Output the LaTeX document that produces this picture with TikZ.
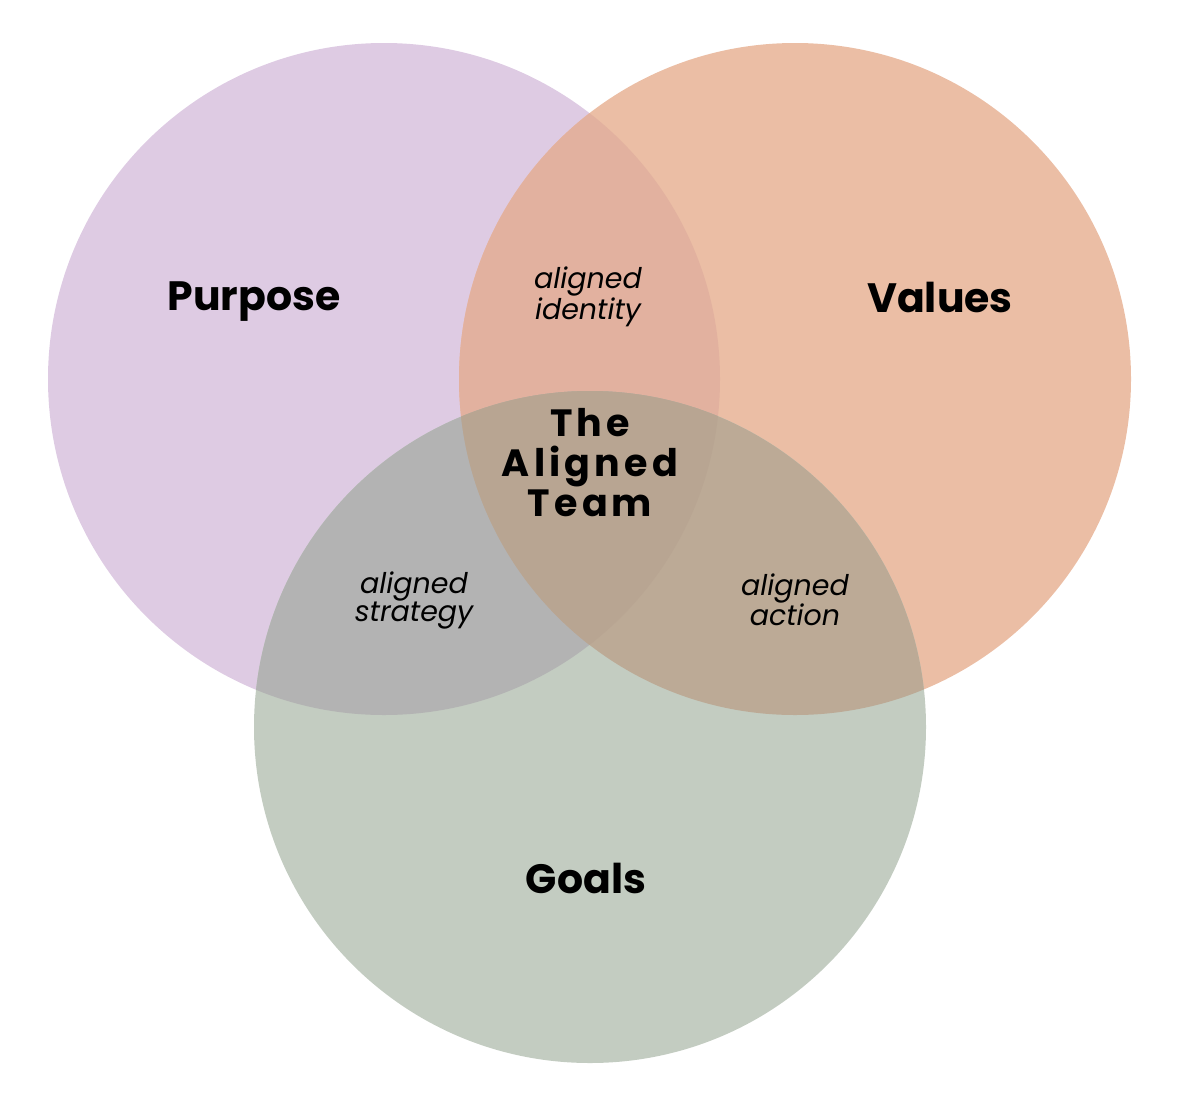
\documentclass[tikz,border=0pt]{standalone}
\usepackage{fontspec}
\setmainfont{Poppins}

\definecolor{purposecol}{HTML}{DECBE3}
\definecolor{valuescol}{HTML}{EBBEA5}
\definecolor{goalscol}{HTML}{C3CCC1}
\definecolor{pvcol}{HTML}{E2B19F}
\definecolor{pgcol}{HTML}{B3B3B3}
\definecolor{vgcol}{HTML}{BCAA96}
\definecolor{allcol}{HTML}{B8A592}

\begin{document}
\begin{tikzpicture}[x=1pt,y=-1pt,
  bigword/.style={font=\fontsize{41}{46}\selectfont\bfseries},
  smallword/.style={font=\fontsize{28.5}{28}\selectfont\itshape, align=center},
  teamword/.style={font=\fontsize{38}{40}\selectfont\bfseries\addfontfeatures{LetterSpace=11}, align=center}]

\useasboundingbox (0,0) rectangle (1180,1098);

% Centres
\coordinate (cP) at (384,379);
\coordinate (cV) at (795,379);
\coordinate (cG) at (590,727);

% Cercles
\fill[purposecol] (cP) circle (336pt);
\fill[valuescol] (cV) circle (336pt);
\fill[goalscol] (cG) circle (336pt);

% Intersections
\begin{scope}
  \clip (cP) circle (336pt);
  \fill[pvcol] (cV) circle (336pt);
  \fill[pgcol] (cG) circle (336pt);
\end{scope}
\begin{scope}
  \clip (cV) circle (336pt);
  \fill[vgcol] (cG) circle (336pt);
\end{scope}
\begin{scope}
  \clip (cP) circle (336pt);
  \clip (cV) circle (336pt);
  \fill[allcol] (cG) circle (336pt);
\end{scope}

% Titres
\node[bigword] (purpose) at (254,302) {Purpose};
\node[bigword] (values) at (940,297) {Values};
\node[bigword] (goals) at (586,878) {Goals};

% Zones communes
\node[smallword] (identity) at (588,297) {aligned\\identity};
\node[smallword] (strategy) at (414,600) {aligned\\strategy};
\node[smallword] (action) at (795,600) {aligned\\action};

% Centre
\node[teamword] (team) at (590,463) {The\\Aligned\\Team};

\end{tikzpicture}
\end{document}
